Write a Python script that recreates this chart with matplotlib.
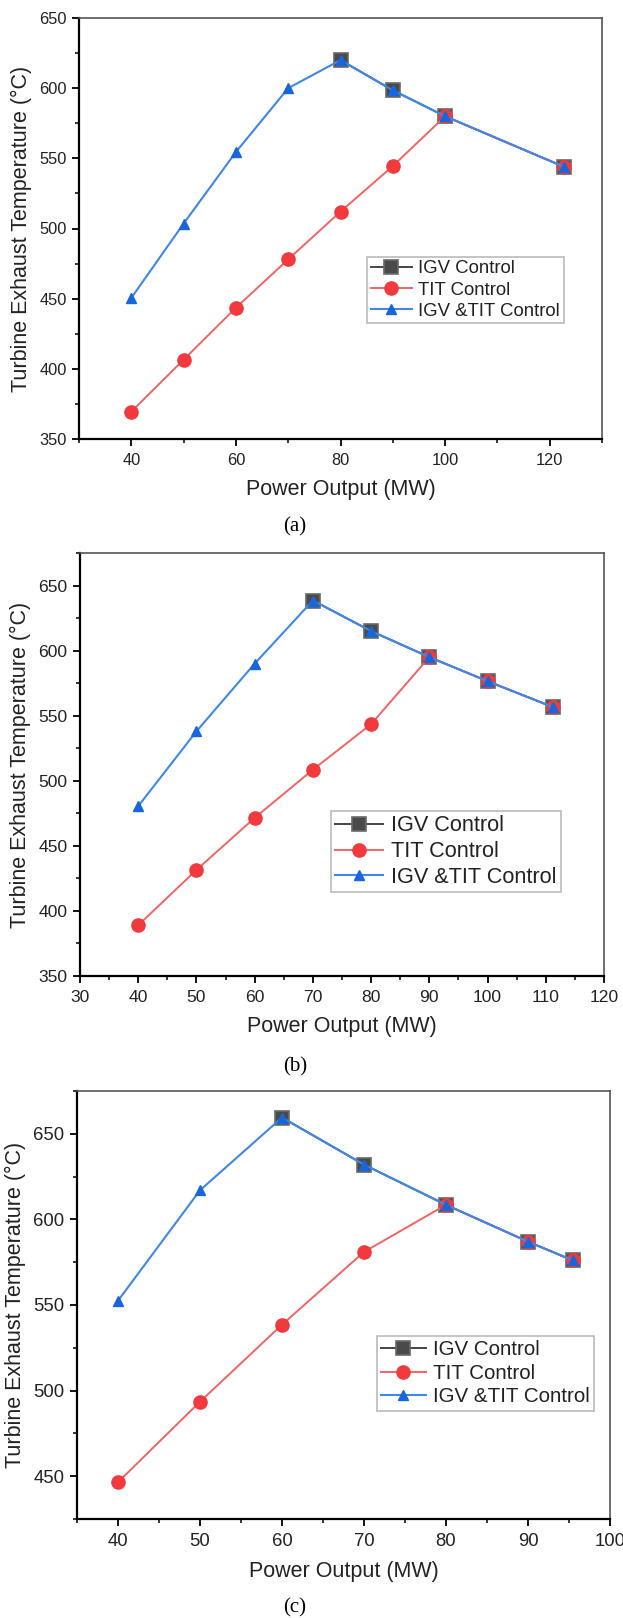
import matplotlib
matplotlib.use('Agg')
import matplotlib.pyplot as plt
from matplotlib.ticker import MultipleLocator

plt.rcParams['font.family'] = ['Liberation Sans', 'DejaVu Sans']

# panel (a)
a_igv_x = [80, 90, 100, 122.7]
a_igv_y = [620, 598.5, 580, 544]
a_tit_x = [40, 50, 60, 70, 80, 90, 100, 122.7]
a_tit_y = [369.5, 406.5, 443.5, 478, 512, 544.5, 580, 544]
a_both_x = [40, 50, 60, 70, 80, 90, 100, 122.7]
a_both_y = [450.5, 503.5, 554.5, 600, 620, 598.5, 580, 544]

# panel (b)
b_igv_x = [70, 80, 90, 100, 111.3]
b_igv_y = [638.5, 615, 595, 576.5, 556.5]
b_tit_x = [40, 50, 60, 70, 80, 90, 100, 111.3]
b_tit_y = [389, 431.5, 471.5, 508.5, 543.5, 595, 576.5, 556.5]
b_both_x = [40, 50, 60, 70, 80, 90, 100, 111.3]
b_both_y = [480.5, 538, 590, 638.5, 615, 595, 576.5, 556.5]

# panel (c)
c_igv_x = [60, 70, 80, 90, 95.5]
c_igv_y = [659.5, 632, 608.5, 587, 576]
c_tit_x = [40, 50, 60, 70, 80, 90, 95.5]
c_tit_y = [446.5, 493.5, 538.5, 581, 608.5, 587, 576]
c_both_x = [40, 50, 60, 70, 80, 90, 95.5]
c_both_y = [552.5, 617, 659.5, 632, 608.5, 587, 576]

labels = ['IGV Control', 'TIT Control', 'IGV &TIT Control']
captions = ['(a)', '(b)', '(c)']

W, H = 623, 1618
fig = plt.figure(figsize=(W / 100, H / 100), dpi=100)

# pixel boxes of the axes: left, top, right, bottom
boxes = [(79, 18, 602, 439), (80, 553, 604, 976), (77, 1091, 610, 1519)]
xlims = [(30, 130), (30, 120), (35, 100)]
ylims = [(350, 650), (350, 675), (425, 675)]
xmajor = [20, 10, 10]
xminor = [10, 5, 5]
yticks = [[350, 400, 450, 500, 550, 600, 650],
          [350, 400, 450, 500, 550, 600, 650],
          [450, 500, 550, 600, 650]]
tick_fs = [11.8, 12.6, 13.3]
leg_fs = [13.4, 15.6, 14.8]
leg_pos = [(0.927, 0.433), (0.917, 0.39), (0.970, 0.427)]
cap_y = [527, 1067, 1608]

data = [(a_igv_x, a_igv_y, a_tit_x, a_tit_y, a_both_x, a_both_y),
        (b_igv_x, b_igv_y, b_tit_x, b_tit_y, b_both_x, b_both_y),
        (c_igv_x, c_igv_y, c_tit_x, c_tit_y, c_both_x, c_both_y)]

for i in range(3):
    l, t, r, b = boxes[i]
    ax = fig.add_axes([l / W, 1 - b / H, (r - l) / W, (b - t) / H])
    igv_x, igv_y, tit_x, tit_y, both_x, both_y = data[i]

    ax.plot(igv_x, igv_y, color='#444444', lw=1.4, marker='s', markersize=10.5,
            markerfacecolor='#4a4a4a', markeredgecolor='#6a6a6a', markeredgewidth=1.2,
            label=labels[0])
    ax.plot(tit_x, tit_y, color='#f26464', lw=1.4, marker='o', markersize=9.5,
            markerfacecolor='#f23a3e', markeredgecolor='#f23a3e', label=labels[1])
    ax.plot(both_x, both_y, color='#3f87e8', lw=1.5, marker='^', markersize=7.5,
            markerfacecolor='#1766dc', markeredgecolor='#1766dc', label=labels[2])

    ax.set_xlim(*xlims[i])
    ax.set_ylim(*ylims[i])
    ax.xaxis.set_major_locator(MultipleLocator(xmajor[i]))
    ax.xaxis.set_minor_locator(MultipleLocator(xminor[i]))
    ax.set_yticks(yticks[i])
    ax.yaxis.set_minor_locator(MultipleLocator(25))

    ax.tick_params(which='major', direction='out', length=5, width=1.3,
                   labelsize=tick_fs[i], color='black', labelcolor='#222222')
    ax.tick_params(which='minor', direction='out', length=3, width=1.1, color='black')
    ax.tick_params(axis='x', which='major', pad=5)
    ax.tick_params(axis='y', which='major', pad=4)
    ax.tick_params(top=False, right=False, which='both')

    for s in ['left', 'bottom']:
        ax.spines[s].set_linewidth(1.6)
        ax.spines[s].set_color('black')
    for s in ['top', 'right']:
        ax.spines[s].set_linewidth(1.2)
        ax.spines[s].set_color('#555555')

    ax.set_xlabel('Power Output (MW)', fontsize=15.5, color='#222222', labelpad=8)
    ax.set_ylabel('Turbine Exhaust Temperature (°C)', fontsize=15.5, color='#222222',
                  labelpad=5)

    leg = ax.legend(loc='upper right', bbox_to_anchor=leg_pos[i], borderaxespad=0,
                    fontsize=leg_fs[i], frameon=True, fancybox=False,
                    handlelength=2.2, handletextpad=0.35, borderpad=0.2,
                    labelspacing=0.22)
    leg.get_frame().set_edgecolor('#aaaaaa')
    leg.get_frame().set_linewidth(1.2)
    for txt in leg.get_texts():
        txt.set_color('#222222')

    fig.text(295 / W, 1 - cap_y[i] / H, captions[i], ha='center', va='center',
             fontsize=15, family='Liberation Serif')

fig.savefig('out.png', dpi=100)
